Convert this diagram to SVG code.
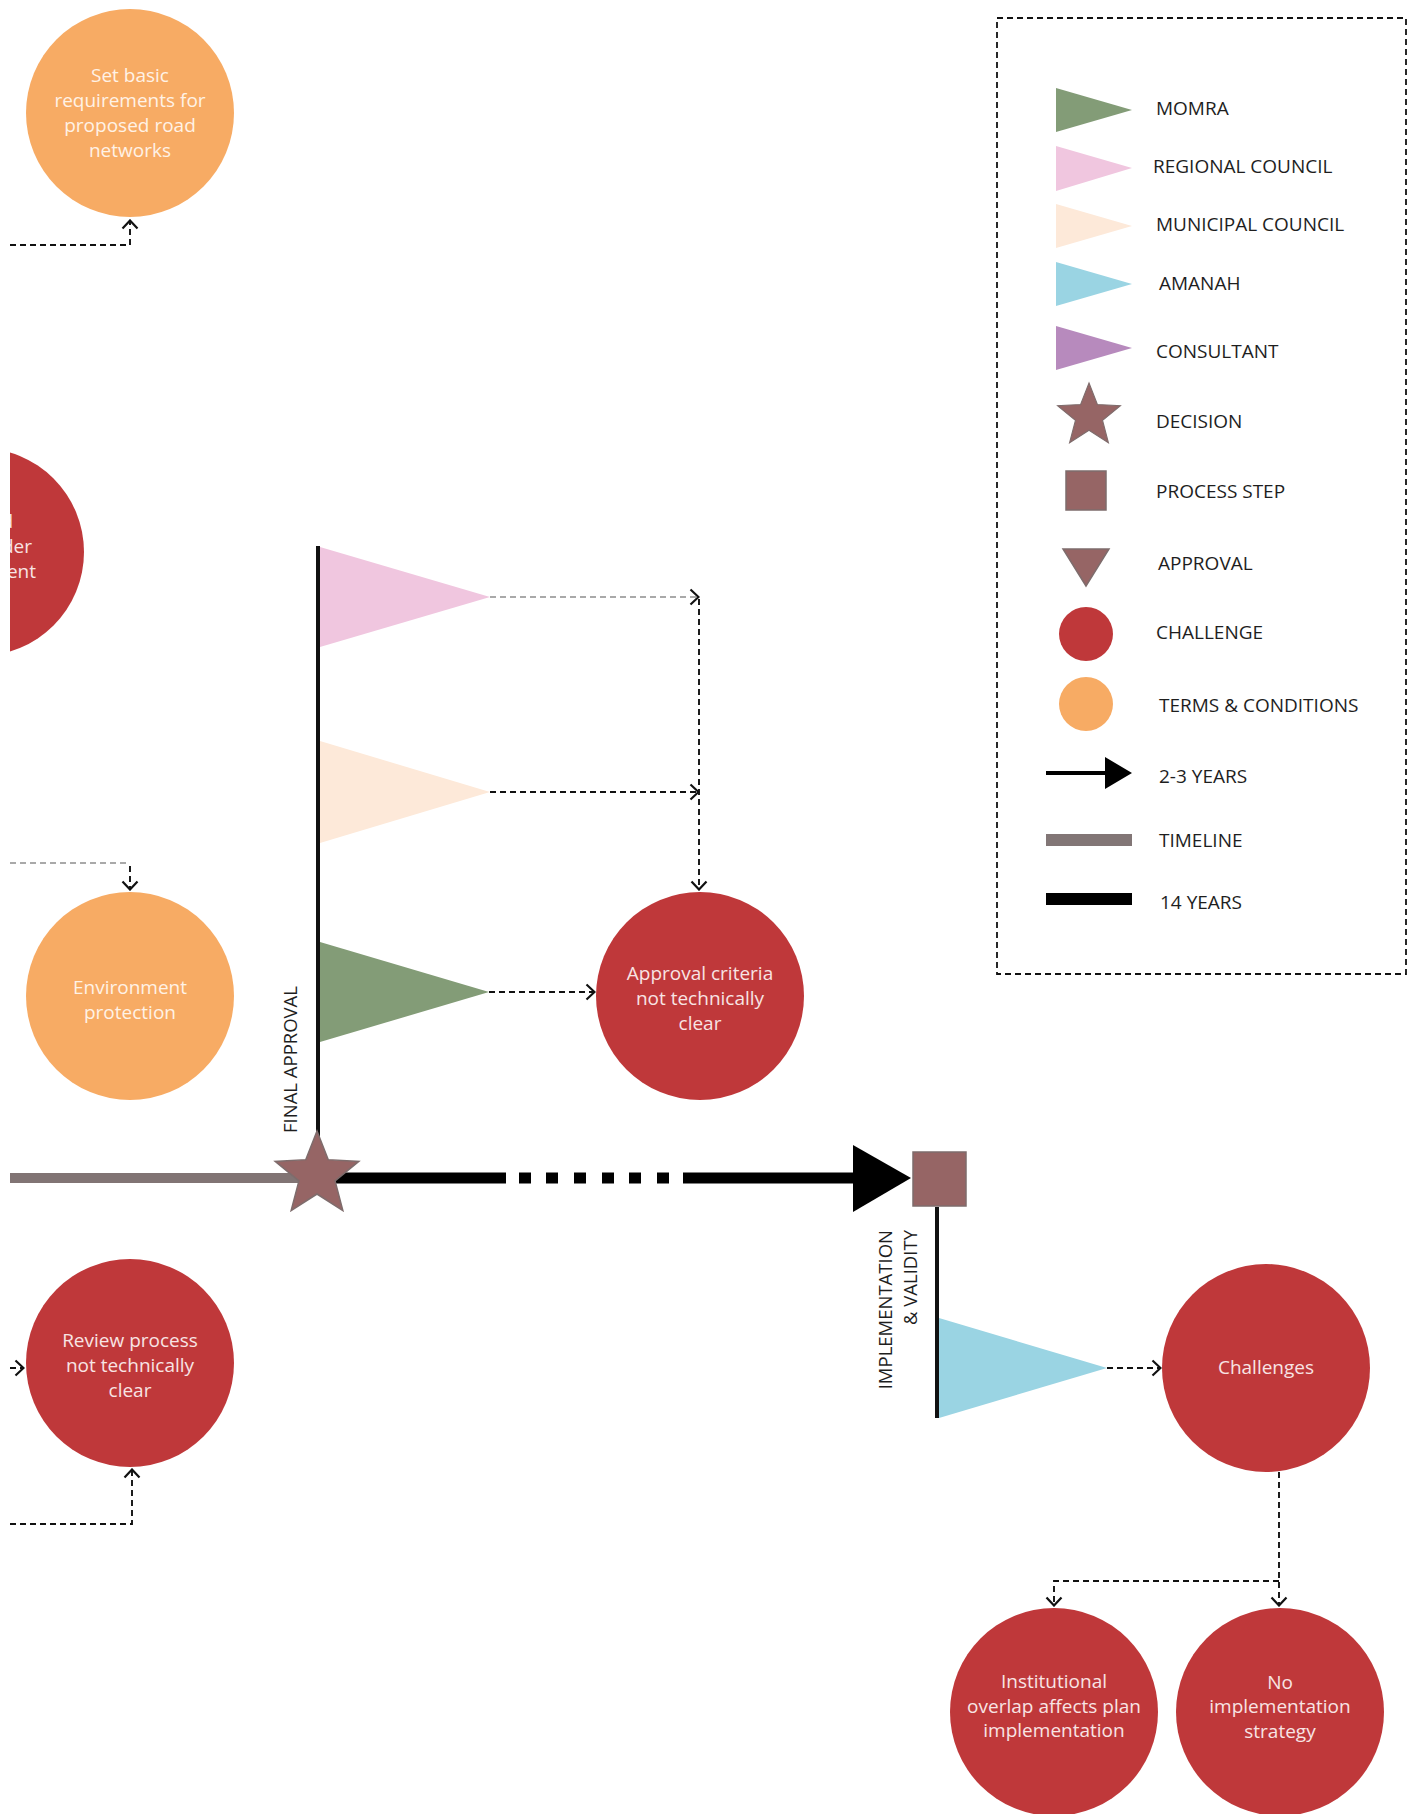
<svg xmlns="http://www.w3.org/2000/svg" width="1407" height="1814" viewBox="0 0 1407 1814">
<style>
  .lbl{font-family:"Open Sans","Liberation Sans",sans-serif;font-size:19px;fill:#1e1e1e}
  .ct{font-family:"Open Sans","Liberation Sans",sans-serif;font-size:19px;text-anchor:middle}
  .onred{fill:#f8e4e4}
  .onor{fill:#fff2e6}
  .red{fill:#bf383a}
  .orange{fill:#f7ab64}
  .brown{fill:#966565;stroke:#7e6c6c;stroke-width:1.5}
  .dash{fill:none;stroke:#111;stroke-width:1.9;stroke-dasharray:6 4}
  .dashl{fill:none;stroke:#555;stroke-width:1.2;stroke-dasharray:6 4}
  .pole{stroke:#111;stroke-width:4;fill:none}
  .rot{font-family:"Open Sans","Liberation Sans",sans-serif;font-size:18.5px;fill:#1e1e1e}
</style>
<defs>
  <marker id="chev" viewBox="0 0 11 18" refX="10" refY="9" markerWidth="11" markerHeight="18" orient="auto" markerUnits="userSpaceOnUse">
    <path d="M1.5,1.5 L9.5,9 L1.5,16.5" fill="none" stroke="#111" stroke-width="2.2"/>
  </marker>
  <polygon id="star" points="0,-44 11.17,-15.37 41.85,-13.6 18.07,5.87 25.86,35.6 0,19 -25.86,35.6 -18.07,5.87 -41.85,-13.6 -11.17,-15.37"/>
  <clipPath id="clipL"><rect x="10" y="0" width="1397" height="1814"/></clipPath>
</defs>
<rect width="1407" height="1814" fill="#fff"/>

<!-- Legend -->
<g id="legend">
  <rect x="997" y="18" width="409" height="956" fill="none" stroke="#111" stroke-width="1.8" stroke-dasharray="6 4"/>
  <polygon points="1056,88 1132,110 1056,132" fill="#839c77"/>
  <text class="lbl" x="1156" y="115">MOMRA</text>
  <polygon points="1056,146 1132,168 1056,191" fill="#f0c6df"/>
  <text class="lbl" x="1153" y="173">REGIONAL COUNCIL</text>
  <polygon points="1056,204 1132,226 1056,248" fill="#fde9d9"/>
  <text class="lbl" x="1156" y="231">MUNICIPAL COUNCIL</text>
  <polygon points="1056,262 1132,284 1056,306" fill="#9ad4e3"/>
  <text class="lbl" x="1159" y="290">AMANAH</text>
  <polygon points="1056,326 1132,348 1056,370" fill="#b78abd"/>
  <text class="lbl" x="1156" y="358">CONSULTANT</text>
  <use href="#star" class="brown" transform="translate(1089,416) scale(0.75)"/>
  <text class="lbl" x="1156" y="428">DECISION</text>
  <rect class="brown" x="1066" y="471" width="40" height="39"/>
  <text class="lbl" x="1156" y="498">PROCESS STEP</text>
  <polygon class="brown" points="1063,549 1109,549 1086,586"/>
  <text class="lbl" x="1158" y="570">APPROVAL</text>
  <circle class="red" cx="1086" cy="634" r="27"/>
  <text class="lbl" x="1156" y="639">CHALLENGE</text>
  <circle class="orange" cx="1086" cy="704" r="27"/>
  <text class="lbl" x="1159" y="712">TERMS &amp; CONDITIONS</text>
  <line x1="1046" y1="773" x2="1107" y2="773" stroke="#000" stroke-width="4"/>
  <polygon points="1105,757 1132,773 1105,789" fill="#000"/>
  <text class="lbl" x="1159" y="783">2-3 YEARS</text>
  <rect x="1046" y="834" width="86" height="12" fill="#827676"/>
  <text class="lbl" x="1159" y="847">TIMELINE</text>
  <rect x="1046" y="893" width="86" height="12" fill="#000"/>
  <text class="lbl" x="1160" y="909">14 YEARS</text>
</g>

<!-- Connectors -->
<g id="connectors" clip-path="url(#clipL)">
  <path class="dash" d="M10,245 H130 V220" marker-end="url(#chev)"/>
  <path class="dashl" d="M10,863 H130"/>
  <path class="dash" d="M130,866 V890" marker-end="url(#chev)"/>
  <path class="dash" d="M10,1368 H24" marker-end="url(#chev)"/>
  <path class="dash" d="M10,1524 H132 V1469" marker-end="url(#chev)"/>
  <path class="dashl" d="M490,597 H699" marker-end="url(#chev)"/>
  <path class="dash" d="M699,599 V890" marker-end="url(#chev)"/>
  <path class="dash" d="M490,792 H699" marker-end="url(#chev)"/>
  <path class="dash" d="M489,992 H595" marker-end="url(#chev)"/>
  <path class="dash" d="M1107,1368 H1161" marker-end="url(#chev)"/>
  <path class="dash" d="M1279,1472 V1606" marker-end="url(#chev)"/>
  <path class="dash" d="M1279,1581 H1054 V1606" marker-end="url(#chev)"/>
</g>

<!-- Timeline -->
<g id="timeline">
  <rect x="10" y="1173" width="307" height="10" fill="#817474"/>
  <rect x="317" y="1172.5" width="189" height="11" fill="#000"/>
  <rect x="519" y="1172.5" width="12" height="11" fill="#000"/>
  <rect x="546" y="1172.5" width="12" height="11" fill="#000"/>
  <rect x="574" y="1172.5" width="12" height="11" fill="#000"/>
  <rect x="602" y="1172.5" width="12" height="11" fill="#000"/>
  <rect x="629" y="1172.5" width="12" height="11" fill="#000"/>
  <rect x="657" y="1172.5" width="12" height="11" fill="#000"/>
  <rect x="683" y="1172.5" width="173" height="11" fill="#000"/>
  <polygon points="853,1145 911,1178 853,1212" fill="#000"/>
</g>

<!-- Final approval flags -->
<g id="final-approval">
  <line class="pole" x1="318" y1="546" x2="318" y2="1160"/>
  <polygon points="320,547 490,597 320,647" fill="#f0c6df"/>
  <polygon points="320,741 490,792 320,843" fill="#fde9d9"/>
  <polygon points="320,942 489,992 320,1042" fill="#839c77"/>
  <text class="rot" transform="translate(297,1133) rotate(-90)">FINAL APPROVAL</text>
</g>
<g id="decision">
  <use href="#star" class="brown" transform="translate(317,1175)"/>
</g>
<g id="process-step">
  <rect class="brown" x="913" y="1152" width="53" height="54"/>
</g>
<g id="implementation">
  <line class="pole" x1="937" y1="1207" x2="937" y2="1418"/>
  <polygon points="939,1318 1107,1368 939,1418" fill="#9ad4e3"/>
  <text class="rot" text-anchor="end" transform="translate(892,1230) rotate(-90)">IMPLEMENTATION</text>
  <text class="rot" text-anchor="end" transform="translate(917,1230) rotate(-90)">&amp; VALIDITY</text>
</g>

<!-- Nodes -->
<g id="n-roads">
  <circle class="orange" cx="130" cy="113" r="104"/>
  <text class="ct onor"><tspan x="130" y="82">Set basic</tspan><tspan x="130" y="107">requirements for</tspan><tspan x="130" y="132">proposed road</tspan><tspan x="130" y="157">networks</tspan></text>
</g>
<g id="n-left-challenge" clip-path="url(#clipL)">
  <circle class="red" cx="-20" cy="552" r="104"/>
  <text class="ct onred" style="text-anchor:end"><tspan x="13" y="528">d</tspan><tspan x="32" y="553">der</tspan><tspan x="36" y="578">ent</tspan></text>
</g>
<g id="n-environment">
  <circle class="orange" cx="130" cy="996" r="104"/>
  <text class="ct onor"><tspan x="130" y="994">Environment</tspan><tspan x="130" y="1019">protection</tspan></text>
</g>
<g id="n-review">
  <circle class="red" cx="130" cy="1363" r="104"/>
  <text class="ct onred"><tspan x="130" y="1347">Review process</tspan><tspan x="130" y="1372">not technically</tspan><tspan x="130" y="1397">clear</tspan></text>
</g>
<g id="n-approval">
  <circle class="red" cx="700" cy="996" r="104"/>
  <text class="ct onred"><tspan x="700" y="980">Approval criteria</tspan><tspan x="700" y="1005">not technically</tspan><tspan x="700" y="1030">clear</tspan></text>
</g>
<g id="n-challenges">
  <circle class="red" cx="1266" cy="1368" r="104"/>
  <text class="ct onred" x="1266" y="1374">Challenges</text>
</g>
<g id="n-overlap">
  <circle class="red" cx="1054" cy="1712" r="104"/>
  <text class="ct onred"><tspan x="1054" y="1688">Institutional</tspan><tspan x="1054" y="1713">overlap affects plan</tspan><tspan x="1054" y="1737">implementation</tspan></text>
</g>
<g id="n-strategy">
  <circle class="red" cx="1280" cy="1712" r="104"/>
  <text class="ct onred"><tspan x="1280" y="1689">No</tspan><tspan x="1280" y="1713">implementation</tspan><tspan x="1280" y="1738">strategy</tspan></text>
</g>
</svg>
